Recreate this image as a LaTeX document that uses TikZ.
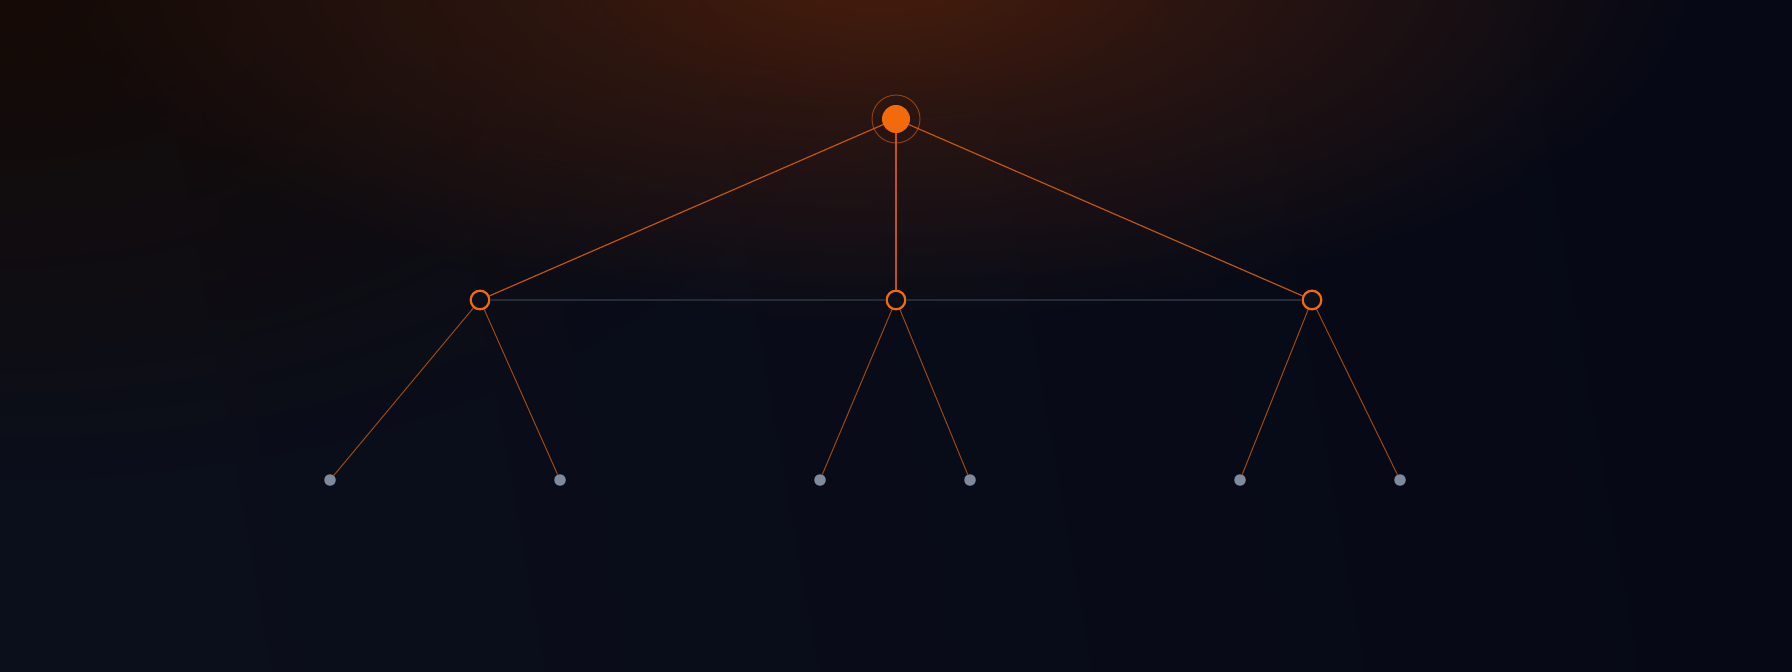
\documentclass[tikz,border=0pt]{standalone}
\usetikzlibrary{fadings}
\definecolor{bgA}{HTML}{0B0F1B}
\definecolor{bgB}{HTML}{060915}
\definecolor{warm}{HTML}{4A1E0C}
\definecolor{brown}{HTML}{170A03}
\definecolor{hot}{HTML}{F26A0C}
\definecolor{edgeO}{HTML}{E0600F}
\definecolor{leafC}{HTML}{7F8A9C}
\definecolor{linkC}{HTML}{262B38}
\definecolor{ringfill}{HTML}{0C0F1A}
\tikzfading[name=glowfade, inner color=transparent!0, outer color=transparent!100]
\tikzset{
  rootnode/.style={circle, inner sep=0pt, minimum size=28pt, fill=hot},
  halonode/.style={circle, inner sep=0pt, minimum size=48pt, draw=edgeO, draw opacity=0.55, line width=1pt},
  midnode/.style={circle, inner sep=0pt, minimum size=18.6pt, draw=hot, line width=2.2pt, fill=ringfill},
  leafnode/.style={circle, inner sep=0pt, minimum size=11.5pt, fill=leafC},
  topedge/.style={draw=edgeO, line width=1.2pt, opacity=0.85},
  lowedge/.style={draw=edgeO, line width=1pt, opacity=0.7},
  linkedge/.style={draw=linkC, line width=1.3pt}
}
\begin{document}
\begin{tikzpicture}[x=1pt,y=-1pt]
\useasboundingbox (0,0) rectangle (1792,672);
% background
\shade[left color=bgA, right color=bgB, shading angle=100] (0,0) rectangle (1792,672);
\fill[brown, path fading=glowfade, opacity=0.9] (0,0) ellipse [x radius=850, y radius=480];
\fill[warm, path fading=glowfade, opacity=0.9] (880,-40) ellipse [x radius=820, y radius=360];
\fill[warm, path fading=glowfade, opacity=0.4] (880,-40) ellipse [x radius=300, y radius=160];
% nodes
\node[halonode] (halo) at (896,119) {};
\node[rootnode] (root) at (896,119) {};
\node[midnode] (m1) at (480,300) {};
\node[midnode] (m2) at (896,300) {};
\node[midnode] (m3) at (1312,300) {};
\node[leafnode] (l1) at (330,480) {};
\node[leafnode] (l2) at (560,480) {};
\node[leafnode] (l3) at (820,480) {};
\node[leafnode] (l4) at (970,480) {};
\node[leafnode] (l5) at (1240,480) {};
\node[leafnode] (l6) at (1400,480) {};
% connectors
\draw[linkedge] (m1) -- (m2);
\draw[linkedge] (m2) -- (m3);
\draw[topedge] (root) -- (m1);
\draw[topedge] (root) -- (m2);
\draw[topedge] (root) -- (m3);
\draw[lowedge] (m1) -- (l1);
\draw[lowedge] (m1) -- (l2);
\draw[lowedge] (m2) -- (l3);
\draw[lowedge] (m2) -- (l4);
\draw[lowedge] (m3) -- (l5);
\draw[lowedge] (m3) -- (l6);
\end{tikzpicture}
\end{document}
